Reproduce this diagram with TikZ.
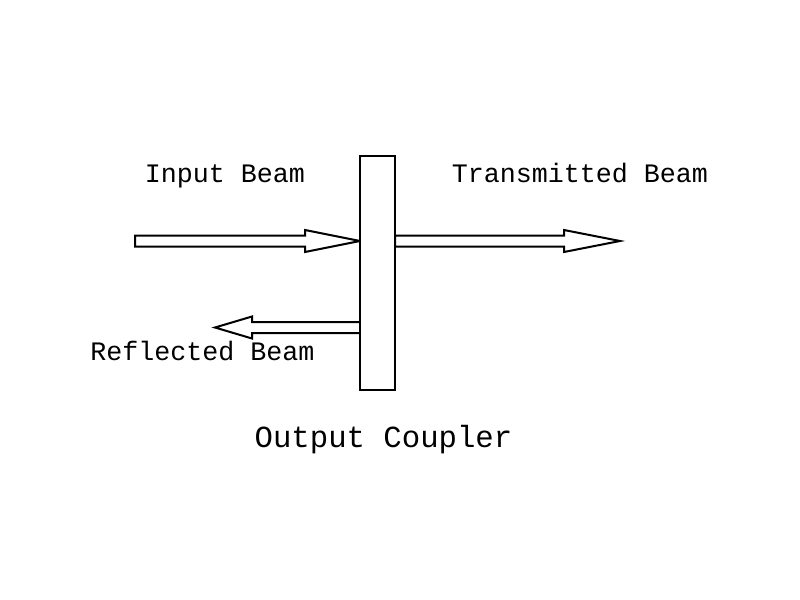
\documentclass[tikz,border=0pt]{standalone}
\usepackage{fontspec}
\setmonofont{Liberation Mono}
\tikzset{
  beam/.style={draw, line width=1.5pt, fill=white, line join=miter},
  lbl/.style={font=\ttfamily\fontsize{20pt}{24pt}\selectfont, anchor=base, inner sep=0pt},
}
\begin{document}
\begin{tikzpicture}[x=0.75pt, y=-0.75pt]
\useasboundingbox (0,0) rectangle (800,600);
% input beam
\coordinate (intail) at (135,241);
\coordinate (intip) at (360,241);
\draw[beam] (intail) ++(0,-5.5) -- (305,235.5) -- (305,230) -- (intip) -- (305,252) -- (305,246.5) -- (135,246.5) -- cycle;
% transmitted beam
\coordinate (trtail) at (395,241);
\coordinate (trtip) at (620,241);
\draw[beam] (trtail) ++(0,-5.5) -- (564,235.5) -- (564,230) -- (trtip) -- (564,252) -- (564,246.5) -- (395,246.5) -- cycle;
% reflected beam
\coordinate (rftail) at (360,327.5);
\coordinate (rftip) at (215,327.5);
\draw[beam] (rftail) ++(0,-5.5) -- (252,322) -- (252,316.5) -- (rftip) -- (252,338.5) -- (252,333) -- (360,333) -- cycle;
% output coupler plate
\node[draw, line width=1.5pt, fill=white, minimum width=26.25pt, minimum height=175.5pt, inner sep=0pt] (oc) at (377.5,273){};
% labels
\node[lbl] (inlbl) at (225,182) {Input Beam};
\node[lbl] (trlbl) at (580,182) {Transmitted Beam};
\node[lbl] (rflbl) at (202.5,360) {Reflected Beam};
\node[lbl, font=\ttfamily\fontsize{23pt}{28pt}\selectfont] (oclbl) at (383.5,447) {Output Coupler};
\end{tikzpicture}
\end{document}
